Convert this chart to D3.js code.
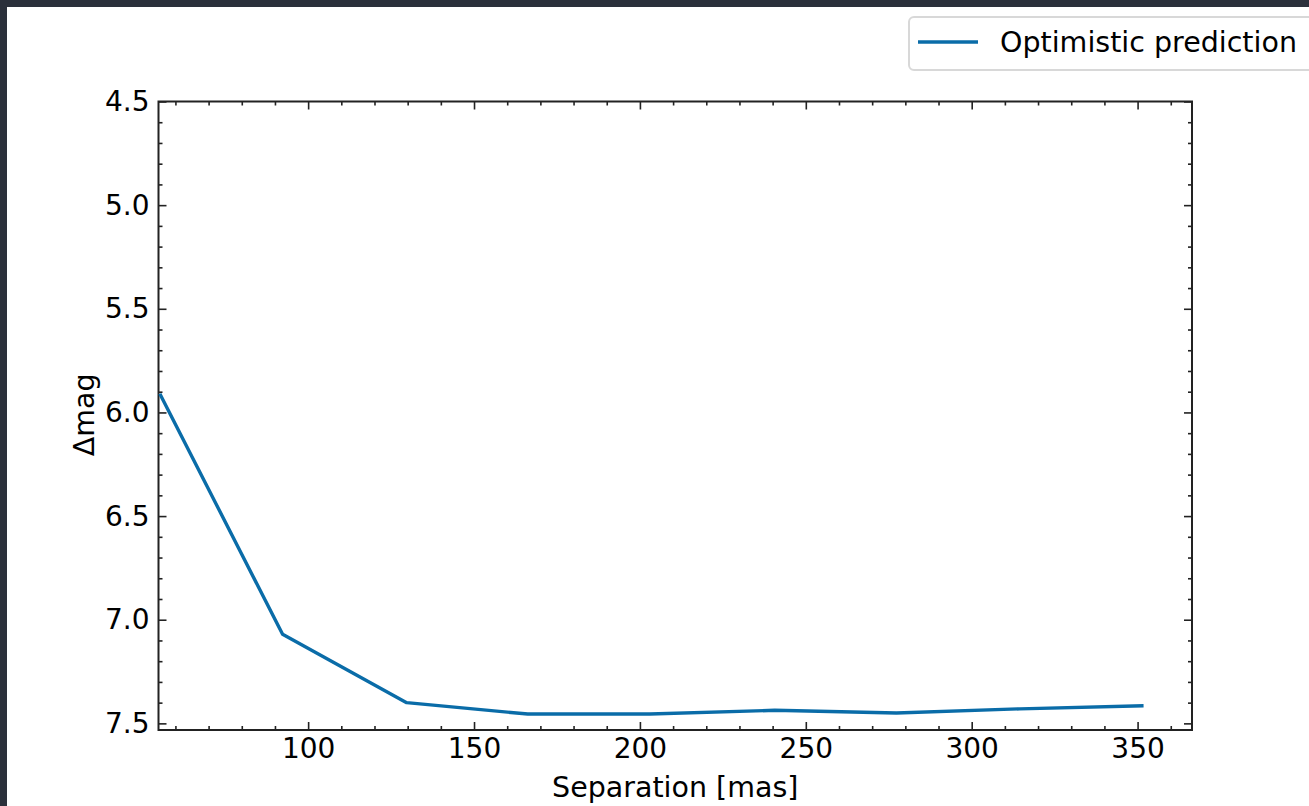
<!DOCTYPE html>
<html>
<head>
<meta charset="utf-8">
<script src="https://cdn.jsdelivr.net/npm/d3@7"></script>
<style>
  body { margin: 0; background: #2b303b; overflow: hidden; }
  #chart { position: absolute; left: 7px; top: 7px; width: 1310px; height: 806px; background: #fff; }
  text { font-family: "DejaVu Sans", sans-serif; fill: #000; }
</style>
</head>
<body>
<div id="chart"></div>
<script>
// Data
var separation = [55.3, 92.3, 129.7, 166.2, 203.0, 240.6, 277.3, 314.5, 351.8];
var deltaMag = [5.91, 7.07, 7.40, 7.455, 7.455, 7.437, 7.45, 7.43, 7.415];
var xMajor = [100, 150, 200, 250, 300, 350];
var yMajor = [4.5, 5.0, 5.5, 6.0, 6.5, 7.0, 7.5];
var seriesName = 'Optimistic prediction';

var svgWidth = 1310;
var svgHeight = 806;
// page offsets of the white panel are 7px
var margin = { top: 94.5, left: 151.5 };
var width = 1033.5;
var height = 628.5;

var svg = d3.select('#chart')
  .append('svg')
  .attr('width', svgWidth)
  .attr('height', svgHeight);

var chartGroup = svg.append('g')
  .attr('transform', `translate(${margin.left}, ${margin.top})`);

var x = d3.scaleLinear().domain([54.9, 366.4]).range([0, width]);
var y = d3.scaleLinear().domain([4.5, 7.532]).range([0, height]);

var xMinor = d3.range(60, 366, 10).filter(v => v % 50 !== 0);
var yMinor = d3.range(46, 76, 1).map(v => v / 10).filter(v => Math.round(v * 10) % 5 !== 0);

function styleAxis(g) {
  g.select('.domain').remove();
  g.selectAll('line').attr('stroke', '#222').attr('stroke-width', 1.6);
  g.selectAll('text').attr('font-size', '28px').attr('fill', '#000');
}

// bottom
chartGroup.append('g')
  .attr('transform', `translate(0, ${height})`)
  .call(d3.axisBottom(x).tickValues(xMajor).tickSize(-8).tickPadding(8).tickFormat(d3.format('d')))
  .call(styleAxis);
chartGroup.append('g')
  .attr('transform', `translate(0, ${height})`)
  .call(d3.axisBottom(x).tickValues(xMinor).tickSize(-4).tickFormat(''))
  .call(styleAxis);
// top
chartGroup.append('g')
  .call(d3.axisTop(x).tickValues(xMajor).tickSize(-8).tickFormat(''))
  .call(styleAxis);
chartGroup.append('g')
  .call(d3.axisTop(x).tickValues(xMinor).tickSize(-4).tickFormat(''))
  .call(styleAxis);
// left
chartGroup.append('g')
  .call(d3.axisLeft(y).tickValues(yMajor).tickSize(-8).tickPadding(9).tickFormat(d3.format('.1f')))
  .call(styleAxis);
chartGroup.append('g')
  .call(d3.axisLeft(y).tickValues(yMinor).tickSize(-4).tickFormat(''))
  .call(styleAxis);
// right
chartGroup.append('g')
  .attr('transform', `translate(${width}, 0)`)
  .call(d3.axisRight(y).tickValues(yMajor).tickSize(-8).tickFormat(''))
  .call(styleAxis);
chartGroup.append('g')
  .attr('transform', `translate(${width}, 0)`)
  .call(d3.axisRight(y).tickValues(yMinor).tickSize(-4).tickFormat(''))
  .call(styleAxis);

// frame
chartGroup.append('rect')
  .attr('width', width)
  .attr('height', height)
  .attr('fill', 'none')
  .attr('stroke', '#222')
  .attr('stroke-width', 2);

// line
var line = d3.line()
  .x((d, i) => x(separation[i]))
  .y(d => y(d));

chartGroup.append('path')
  .datum(deltaMag)
  .attr('fill', 'none')
  .attr('stroke', '#0a6ca8')
  .attr('stroke-width', 3.4)
  .attr('stroke-linejoin', 'round')
  .attr('d', line);

// axis labels
chartGroup.append('text')
  .attr('x', width / 2)
  .attr('y', height + 67)
  .attr('text-anchor', 'middle')
  .attr('font-size', '28.5px')
  .text('Separation [mas]');

chartGroup.append('text')
  .attr('transform', `translate(-65, ${height / 2 - 1}) rotate(-90)`)
  .attr('text-anchor', 'middle')
  .attr('font-size', '28.5px')
  .text('Δmag');

// legend
var legend = svg.append('g').attr('transform', 'translate(902, 10)');
legend.append('rect')
  .attr('width', 420)
  .attr('height', 53)
  .attr('rx', 5)
  .attr('fill', '#fff')
  .attr('stroke', '#d8d8d8')
  .attr('stroke-width', 2);
legend.append('line')
  .attr('x1', 9).attr('x2', 69)
  .attr('y1', 25).attr('y2', 25)
  .attr('stroke', '#0a6ca8')
  .attr('stroke-width', 3.4);
legend.append('text')
  .attr('x', 91)
  .attr('y', 35)
  .attr('font-size', '28.5px')
  .text(seriesName);
</script>
</body>
</html>
